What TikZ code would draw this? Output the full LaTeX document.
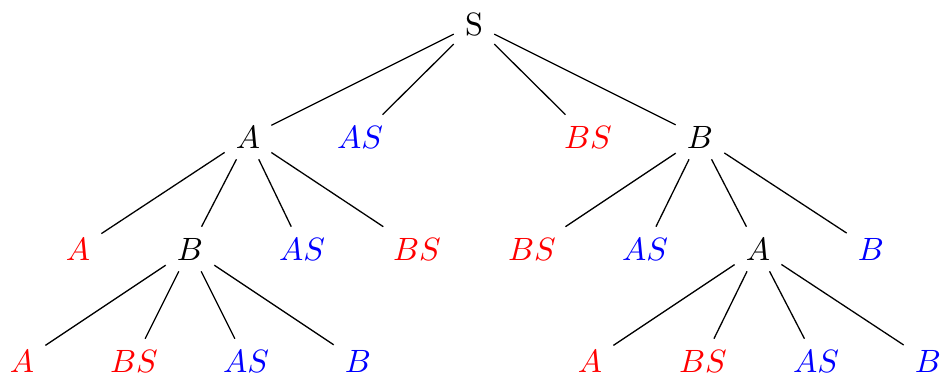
\documentclass[tikz,border=0pt]{standalone}
\begin{document}
\begin{tikzpicture}[x=0.31pt,y=-0.31pt,
  rd/.style={text=red},
  bl/.style={text=blue},
  every node/.style={inner sep=3.3pt}]
\useasboundingbox (0,0) rectangle (941,374);
\node (s) at (474,24) {S};
\node (a1) at (248,137) {$A$};
\node[bl] (as1) at (360,137) {$AS$};
\node[rd] (bs1) at (588,137) {$BS$};
\node (b1) at (700,137) {$B$};
\node[rd] (a2) at (78,249) {$A$};
\node (b2) at (190,249) {$B$};
\node[bl] (as2) at (302,249) {$AS$};
\node[rd] (bs2) at (417,249) {$BS$};
\node[rd] (bs3) at (532,249) {$BS$};
\node[bl] (as3) at (645,249) {$AS$};
\node (a3) at (758,249) {$A$};
\node[bl] (b3) at (871,249) {$B$};
\node[rd] (a4) at (22,361) {$A$};
\node[rd] (bs4) at (134,361) {$BS$};
\node[bl] (as4) at (246,361) {$AS$};
\node[bl] (b4) at (358,361) {$B$};
\node[rd] (a5) at (590,361) {$A$};
\node[rd] (bs5) at (703,361) {$BS$};
\node[bl] (as5) at (816,361) {$AS$};
\node[bl] (b5) at (928,361) {$B$};
\foreach \c in {a1,as1,bs1,b1} \draw (s) -- (\c);
\foreach \c in {a2,b2,as2,bs2} \draw (a1) -- (\c);
\foreach \c in {bs3,as3,a3,b3} \draw (b1) -- (\c);
\foreach \c in {a4,bs4,as4,b4} \draw (b2) -- (\c);
\foreach \c in {a5,bs5,as5,b5} \draw (a3) -- (\c);
\end{tikzpicture}
\end{document}
